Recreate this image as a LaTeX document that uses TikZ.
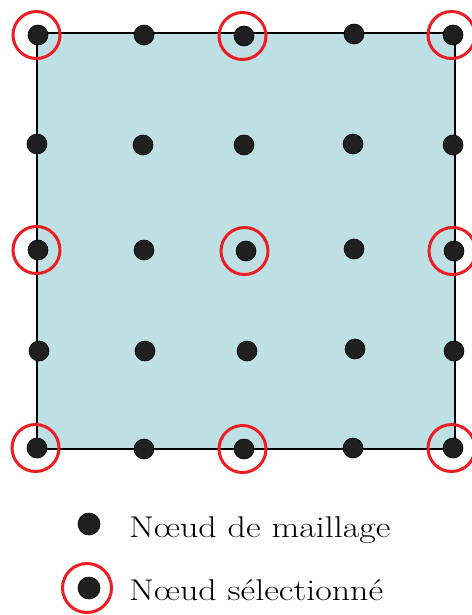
\documentclass[tikz,border=0pt]{standalone}
\usepackage{fontspec}

\definecolor{domainblue}{RGB}{190,224,228}
\definecolor{selred}{RGB}{236,30,36}

\newcommand{\legendlabel}[1]{\scalebox{1.2}[1]{#1}}

\begin{document}
\begin{tikzpicture}[
x=1pt,y=-1pt,
meshnode/.style={circle,fill=black!88,draw=black,line width=0.6pt,inner sep=0pt,minimum size=20pt},
selnode/.style={circle,draw=selred,line width=3pt,inner sep=0pt,minimum size=47pt},
legendtext/.style={anchor=base west,inner sep=0pt,font=\fontsize{30}{36}\selectfont}
]

\useasboundingbox (0,0) rectangle (471,615);

%%%%%%%%%%%%%%%%%%%%%%%%%%%%%%%%%%%%%%%%%%%%%%%%%%%%%%%%%%%%
% DOMAIN
%%%%%%%%%%%%%%%%%%%%%%%%%%%%%%%%%%%%%%%%%%%%%%%%%%%%%%%%%%%%

\node[
draw,
line width=1.5pt,
fill=domainblue,
minimum width=418pt,
minimum height=416pt,
inner sep=0pt
](domain) at (246,241) {};

%%%%%%%%%%%%%%%%%%%%%%%%%%%%%%%%%%%%%%%%%%%%%%%%%%%%%%%%%%%%
% Mesh nodes
%%%%%%%%%%%%%%%%%%%%%%%%%%%%%%%%%%%%%%%%%%%%%%%%%%%%%%%%%%%%

\foreach \r/\c/\x/\y in {
0/0/38/35, 0/1/144/35, 0/2/244/36, 0/3/354/34, 0/4/453/35,
1/0/37/144, 1/1/143/145, 1/2/244/145, 1/3/353/144, 1/4/453/145,
2/0/38/250, 2/1/144/250, 2/2/246/251, 2/3/354/249, 2/4/454/251,
3/0/39/351, 3/1/145/351, 3/2/247/351, 3/3/355/349, 3/4/454/351,
4/0/37/448, 4/1/144/449, 4/2/244/449, 4/3/353/448, 4/4/453/448}
\node[meshnode] (m-\r-\c) at (\x,\y) {};

%%%%%%%%%%%%%%%%%%%%%%%%%%%%%%%%%%%%%%%%%%%%%%%%%%%%%%%%%%%%
% Selected nodes
%%%%%%%%%%%%%%%%%%%%%%%%%%%%%%%%%%%%%%%%%%%%%%%%%%%%%%%%%%%%

\foreach \r in {0,2,4}
\foreach \c in {0,2,4}
\node[selnode] (s-\r-\c) at ([xshift=-1.5pt]m-\r-\c.center) {};

%%%%%%%%%%%%%%%%%%%%%%%%%%%%%%%%%%%%%%%%%%%%%%%%%%%%%%%%%%%%
% Legend
%%%%%%%%%%%%%%%%%%%%%%%%%%%%%%%%%%%%%%%%%%%%%%%%%%%%%%%%%%%%

\node[meshnode,minimum size=22pt] (leg-mesh) at (89,524) {};
\node[legendtext] (leg-mesh-text) at (129,537) {\legendlabel{Nœud de maillage}};

\node[meshnode,minimum size=22pt] (leg-sel) at (89,588) {};
\node[selnode,minimum size=49pt] (leg-sel-ring) at (87,588) {};
\node[legendtext] (leg-sel-text) at (129,600) {\legendlabel{Nœud sélectionné}};

\end{tikzpicture}
\end{document}
